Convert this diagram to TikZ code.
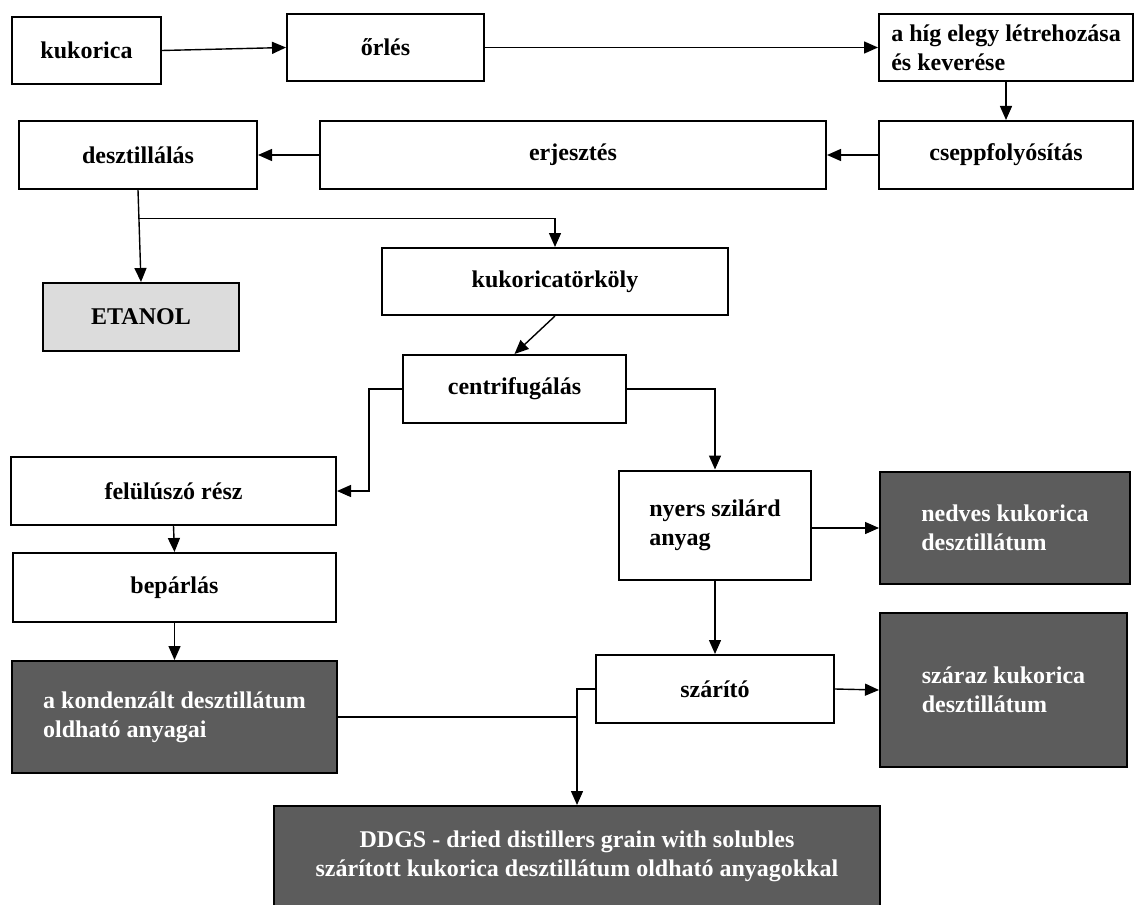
\documentclass[tikz,border=0pt]{standalone}
\usepackage{fontspec}
\setmainfont{Liberation Serif}
\usetikzlibrary{arrows.meta,calc}
\definecolor{darkbox}{HTML}{5C5C5C}
\definecolor{lightbox}{HTML}{DCDCDC}
\begin{document}
\begin{tikzpicture}[x=1pt,y=-1pt,
  box/.style={draw=black, line width=2pt, fill=white, inner sep=0pt,
    font=\bfseries\fontsize{24pt}{29pt}\selectfont, text=black},
  darkbox/.style={box, fill=darkbox, text=white},
  arr/.style={line width=1.4pt, -{Triangle[length=14pt,width=12pt]}},
  ln/.style={line width=1.4pt}]
\useasboundingbox (0,0) rectangle (1134,904);
\fill[white] (0,0) rectangle (1134,904);

% nodes
\node[box, minimum width=149pt, minimum height=67pt] (kuk) at (86.5,50.5) {kukorica};
\node[box, minimum width=197pt, minimum height=67pt] (orles) at (385.5,47.5) {őrlés};
\node[box, minimum width=254pt, minimum height=67pt, align=left] (hig) at (1006,47.5) {a híg elegy létrehozása\\és keverése};
\node[box, minimum width=238pt, minimum height=68pt] (desz) at (138,155) {desztillálás};
\node[box, minimum width=506pt, minimum height=68pt] (erj) at (573,155) {erjesztés};
\node[box, minimum width=254pt, minimum height=68pt] (csep) at (1006,155) {cseppfolyósítás};
\node[box, fill=lightbox, minimum width=196pt, minimum height=68pt] (etanol) at (141,317) {ETANOL};
\node[box, minimum width=346pt, minimum height=67pt] (kt) at (555,281.5) {kukoricatörköly};
\node[box, minimum width=223pt, minimum height=68pt] (cent) at (514.5,389) {centrifugálás};
\node[box, minimum width=325pt, minimum height=68pt] (fel) at (173.5,491) {felülúszó rész};
\node[box, minimum width=323pt, minimum height=69pt] (bep) at (174.5,587.5) {bepárlás};
\node[darkbox, minimum width=325pt, minimum height=112pt, align=left] (kond) at (174.5,717) {a kondenzált desztillátum\\oldható anyagai};
\node[box, minimum width=192pt, minimum height=109pt, align=left] (nyers) at (715,525) {nyers szilárd\\anyag};
\node[darkbox, minimum width=250pt, minimum height=112pt, align=left] (ned) at (1005,528) {nedves kukorica\\desztillátum};
\node[box, minimum width=238pt, minimum height=68pt] (szar) at (715,689) {szárító};
\node[darkbox, minimum width=247pt, minimum height=154pt, align=left] (szaraz) at (1003.5,690) {száraz kukorica\\desztillátum};
\node[darkbox, minimum width=606pt, minimum height=100pt, align=center] (ddgs) at (577,856) {DDGS - dried distillers grain with solubles\\szárított kukorica desztillátum oldható anyagokkal};

% connectors
\draw[arr] (kuk.east) -- (orles.west);
\draw[arr] (orles.east) -- (hig.west);
\draw[arr] (hig.south) -- (csep.north);
\draw[arr] (csep.west) -- (erj.east);
\draw[arr] (erj.west) -- (desz.east);
\draw[arr] (desz.south) -- (etanol.north);
\coordinate (j1) at ($(desz.south)!0.31!(etanol.north)$);
\draw[arr] (j1) -| (kt.north);
\draw[arr] (kt.south) -- (cent.north);
\draw[arr] (cent.west) -- ++(-33,0) |- (fel.east);
\draw[arr] (cent.east) -| (nyers.north);
\draw[arr] (fel.south) -- (bep.north);
\draw[arr] (bep.south) -- (kond.north);
\draw[arr] (nyers.east |- ned.west) -- (ned.west);
\draw[arr] (nyers.south) -- (szar.north);
\draw[arr] (szar.east) -- (szaraz.west);
\draw[arr] (szar.west) -| (ddgs.north);
\draw[ln] (kond.east) -- (kond.east -| ddgs.north);
\end{tikzpicture}
\end{document}
